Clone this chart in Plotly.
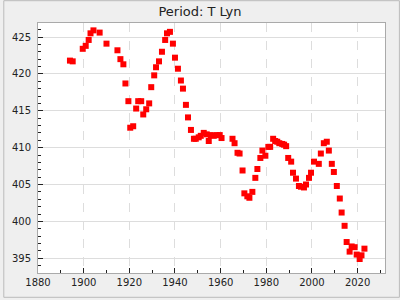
import plotly.graph_objects as go

years = [1894.0, 1895.2, 1899.6, 1900.9, 1902.2, 1903.0, 1904.3, 1907.0, 1910.0,
         1914.8, 1916.1, 1917.4, 1918.3, 1919.6, 1920.4, 1921.7, 1923.0, 1923.9,
         1925.2, 1926.1, 1927.4, 1928.7, 1929.6, 1930.9, 1931.7, 1933.0, 1934.3,
         1935.7, 1936.5, 1937.8, 1939.1, 1940.0, 1941.3, 1942.6, 1943.5, 1944.8,
         1945.7, 1947.0, 1948.3, 1949.1, 1950.4, 1951.3, 1952.6, 1953.9, 1954.8,
         1955.7, 1957.0, 1958.3, 1959.6, 1960.4, 1965.2, 1966.1, 1967.4, 1968.3,
         1969.6, 1970.4, 1971.7, 1972.6, 1973.9, 1975.2, 1976.1, 1977.4, 1978.3,
         1979.6, 1980.9, 1981.7, 1983.0, 1983.9, 1984.8, 1985.7, 1987.0, 1987.8,
         1988.7, 1989.6, 1990.9, 1991.7, 1993.0, 1994.3, 1995.2, 1996.5, 1997.4,
         1998.7, 1999.6, 2000.9, 2003.0, 2003.9, 2005.2, 2006.5, 2007.4, 2008.7,
         2009.6, 2010.9, 2012.2, 2013.0, 2014.3, 2015.2, 2016.5, 2017.4, 2018.7,
         2019.6, 2020.9, 2021.7, 2023.0]
periods = [421.8, 421.7, 423.4, 423.8, 424.6, 425.5, 425.9, 425.6, 424.1,
           423.2, 422.0, 421.3, 418.7, 416.3, 412.7, 412.9, 415.3, 416.3,
           416.3, 414.5, 415.2, 416.0, 418.2, 419.8, 420.9, 421.7, 423.0,
           424.6, 425.5, 425.7, 424.1, 422.2, 420.7, 419.1, 418.0, 415.8,
           414.1, 412.4, 411.2, 411.2, 411.4, 411.6, 412.0, 411.8, 410.9,
           411.7, 411.6, 411.7, 411.7, 411.3, 411.2, 410.6, 409.3, 409.2,
           406.9, 403.8, 403.4, 403.2, 404.0, 405.9, 407.1, 408.6, 409.6,
           408.9, 410.1, 410.1, 411.2, 410.9, 410.8, 410.6, 410.5, 410.4,
           410.2, 408.6, 408.1, 406.6, 405.8, 404.8, 404.7, 404.6, 405.0,
           405.9, 406.6, 408.1, 407.8, 409.2, 410.6, 410.8, 409.6, 407.8,
           406.7, 404.8, 403.1, 401.2, 399.4, 397.2, 395.9, 396.6, 396.5,
           395.5, 394.9, 395.4, 396.3]

x_ticks = [1880, 1900, 1920, 1940, 1960, 1980, 2000, 2020]
y_ticks = [395, 400, 405, 410, 415, 420, 425]

fig = go.Figure(go.Scatter(
    x=years, y=periods, mode="markers",
    marker=dict(symbol="square", size=6, color="#ff0000", line=dict(width=0)),
))

L, R, T, B = 35, 15, 23, 25
W, H = 400, 300
pw, ph = W - L - R, H - T - B

font = dict(family="DejaVu Sans", size=10, color="#222222")
fig.update_layout(
    width=W, height=H,
    margin=dict(l=L, r=R, t=T, b=B, pad=0),
    paper_bgcolor="#efefef", plot_bgcolor="#ffffff",
    showlegend=False,
    title=dict(text="Period: T Lyn", x=0.5, xanchor="center", y=1 - 11 / H, yanchor="middle",
               font=dict(family="DejaVu Sans", size=13, color="#222222")),
    font=font,
)
fig.update_xaxes(
    range=[1880, 2032], tickvals=x_ticks, ticks="inside", ticklen=5, tickcolor="#222",
    showgrid=True, gridcolor="#dddddd", griddash="dash", gridwidth=1,
    showline=True, linecolor="#aaaaaa", linewidth=1, mirror=True, zeroline=False,
    minor=dict(dtick=10, tick0=1880, ticks="inside", ticklen=3, tickcolor="#222", showgrid=False),
    tickfont=font,
)
fig.update_yaxes(
    range=[393, 426.9], tickvals=y_ticks, ticks="inside", ticklen=5, tickcolor="#222",
    showgrid=True, gridcolor="#dddddd", gridwidth=1,
    showline=True, linecolor="#aaaaaa", linewidth=1, mirror=True, zeroline=False,
    minor=dict(dtick=1, tick0=393, ticks="inside", ticklen=3, tickcolor="#222", showgrid=False),
    tickfont=font, ticklabelstandoff=4,
)
# outer frame around the whole figure
fig.add_shape(type="rect", xref="paper", yref="paper",
              x0=(-L + 0.5) / pw, x1=(pw + R - 0.5) / pw,
              y0=(-B + 0.5) / ph, y1=(ph + T - 0.5) / ph,
              line=dict(color="#bbbbbb", width=1), layer="below")

fig.write_html("out.html")
